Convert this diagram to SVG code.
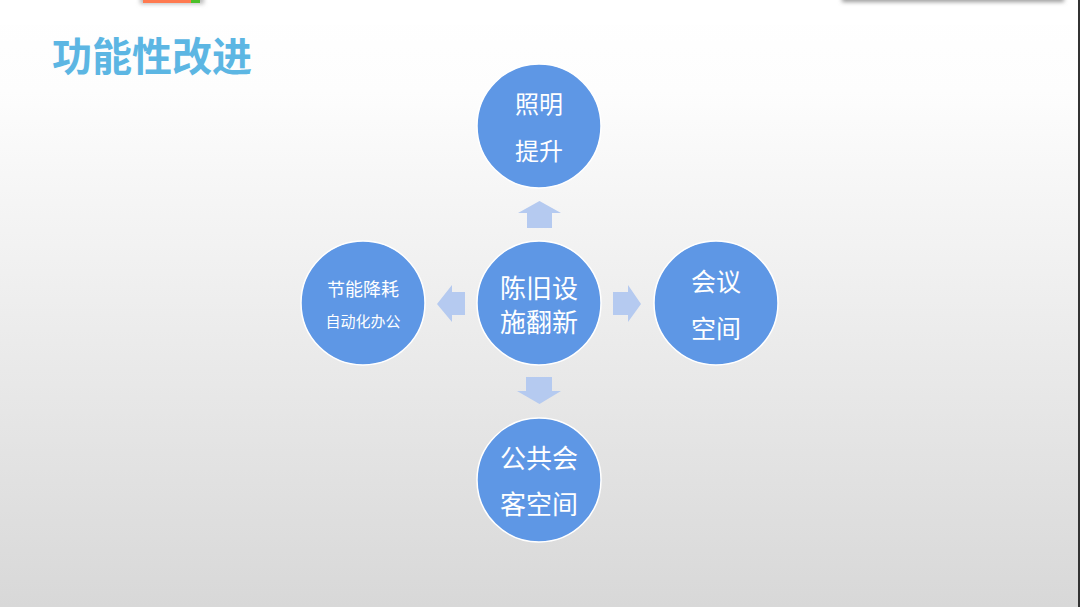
<svg xmlns="http://www.w3.org/2000/svg" width="1080" height="607" viewBox="0 0 1080 607">
<defs>
<linearGradient id="bg" x1="0" y1="0" x2="0" y2="1">
<stop offset="0" stop-color="#ffffff"/>
<stop offset="0.15" stop-color="#fdfdfd"/>
<stop offset="1" stop-color="#d8d8d8"/>
</linearGradient>
<filter id="sh" x="-20%" y="-100%" width="140%" height="400%">
<feGaussianBlur stdDeviation="2"/>
</filter>
</defs>
<style>
.c{fill:#5e97e5;stroke:#ffffff;stroke-width:1.5}
.t{fill:#ffffff;font-family:"Noto Sans CJK SC","Noto Sans",sans-serif;text-anchor:middle;dominant-baseline:central}
.a{fill:#b5caf0}
</style>
<rect width="1080" height="607" fill="url(#bg)"/>
<rect x="0" y="0" width="1080" height="25" fill="#ffffff"/>
<rect x="842" y="-4" width="222" height="6" fill="#999" filter="url(#sh)"/>
<rect x="842" y="-4" width="222" height="4" fill="#ffffff"/>
<rect x="1078" y="0" width="2" height="607" fill="#333"/>
<rect x="140" y="-4" width="64" height="8" fill="#bbb" filter="url(#sh)"/>
<rect x="143" y="0" width="50" height="3" fill="#ff7a50"/>
<rect x="191" y="0" width="9" height="3" fill="#4cc02a"/>
<text x="52" y="54" font-family="&quot;Noto Sans CJK SC&quot;,sans-serif" font-size="40" font-weight="bold" fill="#5cb6e3" dominant-baseline="central">功能性改进</text>
<g id="connectors">
<polygon class="a" points="518,213 539.5,201 561,213 552,213 552,228 527,228 527,213"/>
<polygon class="a" points="526,377 552,377 552,391 561,391 539.5,404 517,391 526,391"/>
<polygon class="a" points="437,304 452,285 452,292 465,292 465,315 452,315 452,322"/>
<polygon class="a" points="613,292 628,292 628,285 641,304 628,322 628,315 613,315"/>
</g>
<g id="n-top">
<circle class="c" cx="539" cy="126" r="62"/>
<text class="t" x="539" y="102" font-size="24">照明</text>
<text class="t" x="539" y="149" font-size="24">提升</text>
</g>
<g id="n-center">
<circle class="c" cx="539" cy="303" r="62"/>
<text class="t" x="539" y="286" font-size="26">陈旧设</text>
<text class="t" x="539" y="320" font-size="26">施翻新</text>
</g>
<g id="n-left">
<circle class="c" cx="363" cy="303" r="62"/>
<text class="t" x="363" y="288" font-size="18">节能降耗</text>
<text class="t" x="363" y="320" font-size="15">自动化办公</text>
</g>
<g id="n-right">
<circle class="c" cx="716" cy="303" r="62"/>
<text class="t" x="716" y="280" font-size="25">会议</text>
<text class="t" x="716" y="327" font-size="25">空间</text>
</g>
<g id="n-bottom">
<circle class="c" cx="539" cy="480" r="62"/>
<text class="t" x="539" y="456" font-size="26">公共会</text>
<text class="t" x="539" y="502" font-size="26">客空间</text>
</g>
</svg>
